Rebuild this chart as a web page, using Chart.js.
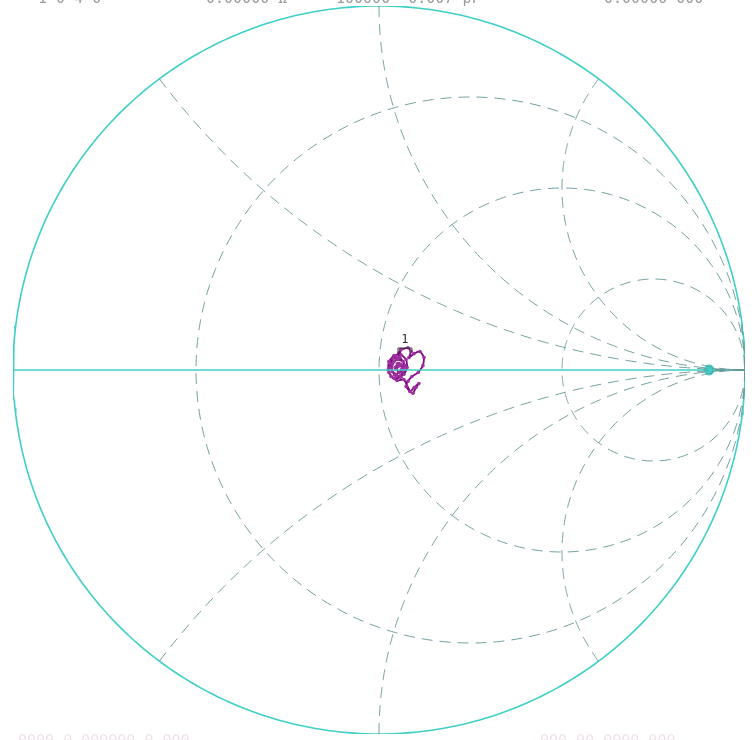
<!DOCTYPE html>
<html>
<head>
<meta charset="utf-8">
<script src="https://cdn.jsdelivr.net/npm/chart.js@4/dist/chart.umd.min.js"></script>
<style>
html,body{margin:0;padding:0;background:#fff;}
#wrap{position:relative;width:752px;height:740px;}
</style>
</head>
<body>
<div id="wrap"><canvas id="c"></canvas></div>
<script>
// Smith chart grid values
const resistanceCircles = [1/3, 1, 3];
const reactanceArcs = [0.5, 1, 2, -0.5, -1, -2];

// Measured reflection-coefficient trace (real, imag)
const traceRe = [0.060,0.079,0.087,0.082,0.096,0.112,0.123,0.120,0.107,0.090,0.079,0.074,0.085,0.096,0.109,0.101,0.093,0.085,
                 0.068,0.049,0.033,0.025,0.027,0.041,0.060,0.074,0.077,0.068,0.049,0.036,0.036,0.049,0.066,0.068,0.055,0.044,
                 0.055,0.063,0.046,0.030,0.038,0.057,0.071,0.060,0.041,0.027,0.030,0.046,0.060,
                 0.052,0.040,0.034,0.043,0.058,0.066,0.061,0.050,0.047,0.053];
const traceIm = [0.056,0.061,0.051,0.034,0.045,0.051,0.034,0.012,-0.007,-0.018,-0.031,-0.045,-0.059,-0.048,-0.037,-0.048,-0.064,-0.059,
                 -0.026,-0.029,-0.018,0.001,0.023,0.040,0.042,0.029,0.007,-0.012,-0.018,-0.004,0.015,0.029,0.023,0.004,-0.007,0.007,
                 0.018,0.004,-0.012,0.007,0.031,0.034,0.012,-0.020,-0.023,-0.007,0.018,0.037,0.056,
                 0.030,0.022,0.003,-0.014,-0.016,-0.002,0.014,0.017,0.002,0.010];

// Marker 1 position (reflection coefficient)
const markerLabels = ['1'];
const markerRe = [0.071];
const markerIm = [0.052];

// Source-side marker on real axis
const refPointRe = [0.902];
const refPointIm = [0.0];

// Header / footer texts
const headerTexts = ['1 0 4 0', '0.00000 Ω', '100000  0.007 pF', '0.00000 000'];
const footerTexts = ['0000 0 000000 0 000', '000 00 0000 000'];

// geometry helpers: map normalized impedance z = r + jx to Γ
function gamma(r, x) {
  const den = (r + 1) * (r + 1) + x * x;
  return { x: (r * r + x * x - 1) / den, y: (2 * x) / den };
}
function rCircle(r) {
  const pts = [];
  for (let i = -180; i <= 180; i++) {
    const ph = (i / 181) * Math.PI / 2;
    pts.push(gamma(r, Math.tan(ph)));
  }
  pts.push({ x: 1, y: 0 });
  pts.unshift({ x: 1, y: 0 });
  return pts;
}
function xArc(xv) {
  const pts = [];
  for (let i = 0; i < 240; i++) {
    const th = (i / 240) * Math.PI / 2;
    pts.push(gamma(Math.tan(th), xv));
  }
  pts.push({ x: 1, y: 0 });
  return pts;
}
function unitCircle() {
  const pts = [];
  for (let i = 0; i <= 360; i++) {
    const a = i * Math.PI / 180;
    pts.push({ x: Math.cos(a), y: Math.sin(a) });
  }
  return pts;
}

const gridColor = 'rgba(100,150,150,0.9)';
const cyan = '#3fcfc6';
const purple = '#7a0a7a';

const datasets = [];
resistanceCircles.forEach(r => datasets.push({
  data: rCircle(r), showLine: true, borderColor: gridColor, borderWidth: 1,
  borderDash: [11, 7], pointRadius: 0, fill: false, tension: 0
}));
reactanceArcs.forEach(xv => datasets.push({
  data: xArc(xv), showLine: true, borderColor: gridColor, borderWidth: 1,
  borderDash: [11, 7], pointRadius: 0, fill: false, tension: 0
}));
datasets.push({
  data: unitCircle(), showLine: true, borderColor: cyan, borderWidth: 1.6,
  pointRadius: 0, fill: false, tension: 0
});
datasets.push({
  data: [{ x: -1, y: 0 }, { x: 1, y: 0 }], showLine: true, borderColor: cyan, borderWidth: 1.6,
  pointRadius: 0, fill: false
});
datasets.push({
  data: refPointRe.map((v, i) => ({ x: v, y: refPointIm[i] })), showLine: false,
  pointRadius: 5, pointStyle: 'circle', backgroundColor: cyan, borderColor: cyan
});
datasets.push({
  data: traceRe.map((v, i) => ({ x: v, y: traceIm[i] })), showLine: true,
  borderColor: purple, borderWidth: 1.8, pointRadius: 1.8, pointBackgroundColor: '#a030a0',
  pointBorderWidth: 0, fill: false, tension: 0.15
});

const markerPlugin = {
  id: 'markers',
  afterDatasetsDraw(chart) {
    const ctx = chart.ctx, sx = chart.scales.x, sy = chart.scales.y;
    ctx.save();
    markerLabels.forEach((lab, i) => {
      const px = sx.getPixelForValue(markerRe[i]);
      const py = sy.getPixelForValue(markerIm[i]);
      ctx.strokeStyle = '#333';
      ctx.lineWidth = 1;
      ctx.beginPath();
      ctx.moveTo(px - 7, py + 2); ctx.lineTo(px - 7, py - 3);
      ctx.lineTo(px + 7, py - 3); ctx.lineTo(px + 7, py + 2);
      ctx.stroke();
      ctx.fillStyle = '#333';
      ctx.font = '12px "DejaVu Sans Mono"';
      ctx.textAlign = 'center';
      ctx.textBaseline = 'bottom';
      ctx.fillText(lab, px, py - 5);
    });
    // header (cut at top) and footer (cut at bottom)
    ctx.font = '15px "DejaVu Sans Mono"';
    ctx.textAlign = 'left';
    ctx.textBaseline = 'alphabetic';
    ctx.fillStyle = 'rgba(90,90,90,0.6)';
    const hx = [38, 206, 336, 604];
    headerTexts.forEach((t, i) => ctx.fillText(t, hx[i], 3));
    ctx.fillStyle = 'rgba(190,140,175,0.25)';
    ctx.textBaseline = 'top';
    const fx = [18, 540];
    footerTexts.forEach((t, i) => ctx.fillText(t, fx[i], 735));
    ctx.restore();
  }
};

new Chart(document.getElementById('c'), {
  type: 'scatter',
  data: { datasets },
  options: {
    responsive: true,
    maintainAspectRatio: false,
    animation: false,
    layout: { padding: { left: 13, right: 7, top: 4, bottom: 3 } },
    plugins: { legend: { display: false }, tooltip: { enabled: false } },
    scales: {
      x: { type: 'linear', min: -1, max: 1, display: false },
      y: { type: 'linear', min: -1, max: 1, display: false }
    },
    elements: { line: { borderCapStyle: 'butt' } }
  },
  plugins: [markerPlugin]
});
</script>
</body>
</html>
